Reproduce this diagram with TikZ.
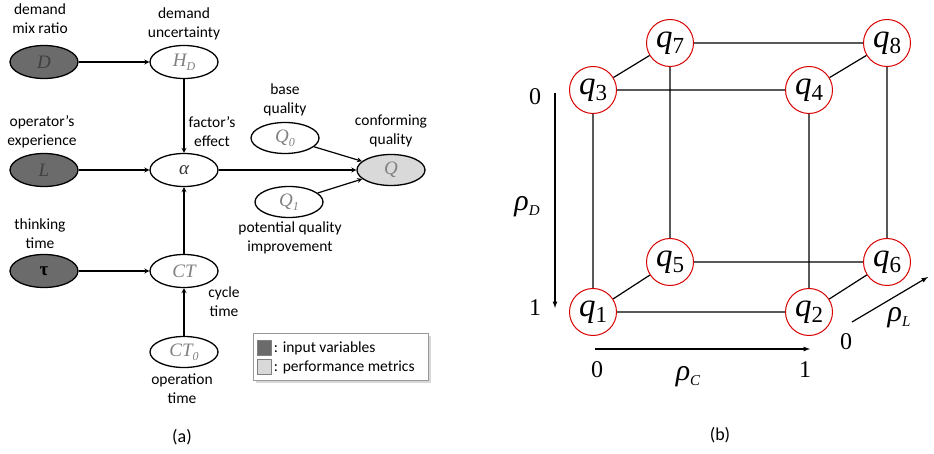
\documentclass[tikz,border=0pt]{standalone}
\usepackage{fontspec}
\setmainfont{Carlito}
\newfontfamily\tnr{Liberation Serif}
\usetikzlibrary{shapes.geometric,shadows}
% state q with index
\newcommand{\qv}[1]{{\fontsize{33}{33}\selectfont\tnr\itshape q}\raisebox{-6pt}{\fontsize{23}{23}\selectfont\tnr #1}}
% variable with index
\newcommand{\vr}[2]{#1\raisebox{-4pt}{\fontsize{12}{12}\selectfont\tnr\itshape #2}}
% axis symbol
\newcommand{\rv}[1]{{\fontsize{30}{30}\selectfont\tnr\itshape ρ}\raisebox{-5pt}{\fontsize{15}{15}\selectfont\tnr\itshape #1}}
\begin{document}
\begin{tikzpicture}[x=1pt, y=-1pt, line join=round, >=stealth,
	var/.style={ellipse, draw, line width=1.3pt, minimum width=68pt, minimum height=33pt, inner sep=0pt, font=\fontsize{19}{19}\selectfont\tnr\itshape, text=black!50},
	inp/.style={var, fill=black!58, text=black!75},
	perf/.style={var, fill=black!15},
	lbl/.style={align=center, font=\fontsize{15.5}{19}\selectfont},
	link/.style={->, line width=1.2pt},
	qnode/.style={circle, draw=red!85!black, line width=1pt, fill=white, minimum size=47pt, inner sep=0pt},
	cubeline/.style={line width=1.2pt},
	ax/.style={-latex, line width=1.2pt},
	num/.style={font=\fontsize{24}{24}\selectfont\tnr}]
	\useasboundingbox (0,0) rectangle (934,454);
	% (a) influence diagram
	\node[inp] (D) at (44,62) {D};
	\node[var] (HD) at (184,62) {\vr{H}{D}};
	\node[inp] (L) at (44,170) {L};
	\node[var, text=black!80] (alpha) at (184,170) {α};
	\node[var, minimum height=31pt] (Q0) at (285,138) {\vr{Q}{0}};
	\node[perf, minimum height=31pt] (Q) at (391,170) {Q};
	\node[var, minimum height=31pt] (Q1) at (289,202) {\vr{Q}{1}};
	\node[inp, text=black, font=\fontsize{19}{19}\selectfont\tnr\bfseries] (tau) at (44,271) {τ};
	\node[var] (CT) at (184,271) {CT};
	\node[var, minimum height=31pt] (CT0) at (184,352) {\vr{CT}{0}};
	\node[lbl] (tD) at (40,19) {demand\\mix ratio};
	\node[lbl] (tHD) at (184,24) {demand\\uncertainty};
	\node[lbl] (tL) at (42,132) {operator’s\\experience};
	\node[lbl] (talpha) at (212,132) {factor’s\\effect};
	\node[lbl] (tQ0) at (285,100) {base\\quality};
	\node[lbl] (tQ) at (391,131) {conforming\\quality};
	\node[lbl] (tQ1) at (290,238) {potential quality\\improvement};
	\node[lbl] (ttau) at (40,234) {thinking\\time};
	\node[lbl] (tCT) at (224,302) {cycle\\time};
	\node[lbl] (tCT0) at (182,389) {operation\\time};
	\draw[link] (D) -- (HD);
	\draw[link] (HD) -- (alpha);
	\draw[link] (L) -- (alpha);
	\draw[link] (alpha) -- (Q);
	\draw[link] (Q0) -- (Q);
	\draw[link] (Q1) -- (Q);
	\draw[link] (tau) -- (CT);
	\draw[link] (CT) -- (alpha);
	\draw[link] (CT0) -- (CT);
	% legend
	\node[draw=black!40, fill=white, drop shadow={shadow xshift=2pt, shadow yshift=-2pt, fill=black!30}, minimum width=175pt, minimum height=47pt] (legend) at (341,357) {};
	\node[draw=black!50, fill=black!58, minimum width=14pt, minimum height=15pt, inner sep=0pt] (kin) at (264,348) {};
	\node[draw=black!50, fill=black!15, minimum width=14pt, minimum height=15pt, inner sep=0pt] (kperf) at (264,367) {};
	\node[lbl, anchor=west, inner sep=0pt] (tkin) at (kin.east) {\,: input variables};
	\node[lbl, anchor=west, inner sep=0pt] (tkperf) at (kperf.east) {\,: performance metrics};
	\node[font=\fontsize{18}{18}\selectfont] (capa) at (182,437) {(a)};
	% (b) cube of states
	\node[qnode] (q1) at (593,312) {\qv{1}};
	\node[qnode] (q2) at (809,312) {\qv{2}};
	\node[qnode] (q3) at (593,90) {\qv{3}};
	\node[qnode] (q4) at (809,90) {\qv{4}};
	\node[qnode] (q5) at (670,262) {\qv{5}};
	\node[qnode] (q6) at (887,262) {\qv{6}};
	\node[qnode] (q7) at (670,43) {\qv{7}};
	\node[qnode] (q8) at (887,43) {\qv{8}};
	\draw[cubeline] (q3) -- (q4) (q3) -- (q1) (q3) -- (q7) (q7) -- (q8) (q7) -- (q5) (q4) -- (q2);
	\draw[cubeline] (q4) -- (q8) (q8) -- (q6) (q5) -- (q6) (q5) -- (q1) (q1) -- (q2) (q2) -- (q6);
	% axes
	\coordinate (dtop) at (555,93);
	\coordinate (dbot) at (555,308);
	\coordinate (cleft) at (595,349);
	\coordinate (cright) at (810,349);
	\coordinate (lstart) at (852,322);
	\coordinate (lend) at (928,277);
	\draw[ax] (dtop) -- (dbot);
	\draw[ax] (cleft) -- (cright);
	\draw[ax] (lstart) -- (lend);
	\node[num] (d0) at (535,97) {0};
	\node[num] (d1) at (535,308) {1};
	\node (rD) at (527,207) {\rv{D}};
	\node[num] (c0) at (597,370) {0};
	\node[num] (c1) at (805,370) {1};
	\node (rC) at (688,377) {\rv{C}};
	\node[num] (l0) at (846,342) {0};
	\node (rL) at (899,318) {\rv{L}};
	\node[font=\fontsize{18}{18}\selectfont] (capb) at (720,435) {(b)};
\end{tikzpicture}
\end{document}
